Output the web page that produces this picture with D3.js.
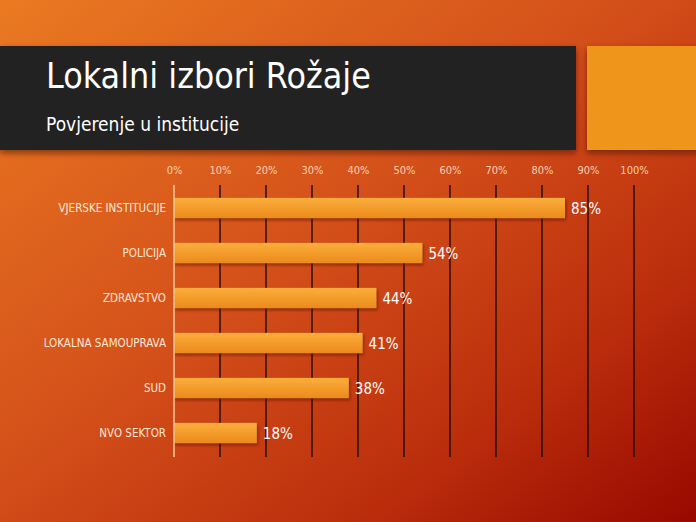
<!DOCTYPE html>
<html><head><meta charset="utf-8">
<script src="https://cdn.jsdelivr.net/npm/d3@7"></script>
<style>html,body{margin:0;padding:0;overflow:hidden;background:#c43a10}</style>
</head><body>
<script>
const categories = ["VJERSKE INSTITUCIJE","POLICIJA","ZDRAVSTVO","LOKALNA SAMOUPRAVA","SUD","NVO SEKTOR"];
const values = [85,54,44,41,38,18];
const tickValues = [0,10,20,30,40,50,60,70,80,90,100];
const tickLabels = ["0%","10%","20%","30%","40%","50%","60%","70%","80%","90%","100%"];
const title = "Lokalni izbori Rožaje";
const subtitle = "Povjerenje u institucije";

const W=696,H=522;
const svg=d3.select("body").append("svg").attr("width",W).attr("height",H);
const defs=svg.append("defs");
const bg=defs.append("linearGradient").attr("id","bg").attr("x1","0").attr("y1","0").attr("x2","1").attr("y2","1");
bg.append("stop").attr("offset","0").attr("stop-color","#ea7a22");
bg.append("stop").attr("offset","0.45").attr("stop-color","#d4501a");
bg.append("stop").attr("offset","0.75").attr("stop-color","#bb2e0c");
bg.append("stop").attr("offset","1").attr("stop-color","#980800");
const bar=defs.append("linearGradient").attr("id","bar").attr("x1","0").attr("y1","0").attr("x2","0").attr("y2","1");
bar.append("stop").attr("offset","0").attr("stop-color","#fbae3c");
bar.append("stop").attr("offset","1").attr("stop-color","#ec8a1c");
const sh=defs.append("filter").attr("id","sh").attr("x","-10%").attr("y","-30%").attr("width","130%").attr("height","180%");
sh.append("feDropShadow").attr("dx",1).attr("dy",2).attr("stdDeviation",1.5).attr("flood-color","#5a1000").attr("flood-opacity",0.6);
const sh2=defs.append("filter").attr("id","sh2").attr("x","-10%").attr("y","-20%").attr("width","130%").attr("height","150%");
sh2.append("feDropShadow").attr("dx",0).attr("dy",3).attr("stdDeviation",3).attr("flood-color","#400800").attr("flood-opacity",0.6);

svg.append("rect").attr("width",W).attr("height",H).attr("fill","url(#bg)");

const font="'DejaVu Sans Condensed','DejaVu Sans',sans-serif";
// header
svg.append("rect").attr("x",0).attr("y",46).attr("width",576).attr("height",104).attr("fill","#222222").attr("filter","url(#sh2)");
svg.append("rect").attr("x",587).attr("y",46).attr("width",120).attr("height",104).attr("fill","#f0951a").attr("filter","url(#sh2)");
svg.append("text").attr("x",46).attr("y",88).attr("fill","#fff").attr("font-family",font).attr("font-stretch","condensed").attr("font-size",35.5).text(title);
svg.append("text").attr("x",46).attr("y",131).attr("fill","#fff").attr("font-family",font).attr("font-stretch","condensed").attr("font-size",19).text(subtitle);

const x=d3.scaleLinear().domain([0,100]).range([174,634]);
const y=d3.scaleBand().domain(categories).range([185.5,455.5]).paddingInner(0.55).paddingOuter(0.275);

// gridlines
svg.append("g").selectAll("line").data(tickValues.slice(1)).join("line")
  .attr("x1",d=>x(d)).attr("x2",d=>x(d)).attr("y1",185).attr("y2",457)
  .attr("stroke","#2a0f08").attr("stroke-width",1.5);
// top axis
const ax=svg.append("g").attr("transform","translate(0,178)")
  .call(d3.axisTop(x).tickValues(tickValues).tickFormat((d,i)=>tickLabels[i]).tickSize(0).tickPadding(4));
ax.select(".domain").remove();
ax.selectAll("text").attr("fill","#f8d2b0").attr("font-family",font).attr("font-size",11);

// bars
svg.append("g").selectAll("rect").data(values).join("rect")
  .attr("x",x(0)).attr("y",(d,i)=>y(categories[i])).attr("width",d=>x(d)-x(0)).attr("height",y.bandwidth())
  .attr("fill","url(#bar)").attr("filter","url(#sh)");
// left axis line
svg.append("line").attr("x1",x(0)).attr("x2",x(0)).attr("y1",185).attr("y2",457).attr("stroke","#f8c898").attr("stroke-width",1.5);

// category labels
const ay=svg.append("g").attr("transform",`translate(${x(0)-8},0)`)
  .call(d3.axisLeft(y).tickSize(0).tickPadding(0));
ay.select(".domain").remove();
ay.selectAll("text").attr("fill","#fbe6d6").attr("font-family",font).attr("font-size",11.5);

// value labels
svg.append("g").selectAll("text").data(values).join("text")
  .attr("x",d=>x(d)+6).attr("y",(d,i)=>y(categories[i])+y.bandwidth()/2+5.5)
  .attr("fill","#fff").attr("font-family",font).attr("font-size",15).text(d=>d+"%");
</script>
</body></html>
